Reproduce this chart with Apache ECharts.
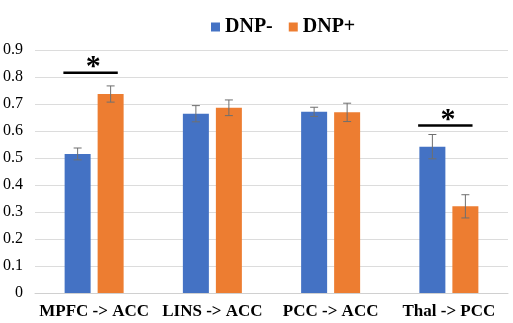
<!DOCTYPE html>
<html><head><meta charset="utf-8">
<script src="https://cdn.jsdelivr.net/npm/echarts@6/dist/echarts.min.js"></script>
<style>html,body{margin:0;padding:0;background:#fff}#c{width:513px;height:323px}</style>
</head><body><div id="c"></div>
<script>
var categories = ['MPFC -> ACC', 'LINS -> ACC', 'PCC -> ACC', 'Thal -> PCC'];
var dnpMinus = [0.515, 0.664, 0.671, 0.542];
var dnpMinusErr = [0.022, 0.030, 0.017, 0.045];
var dnpPlus = [0.737, 0.686, 0.669, 0.321];
var dnpPlusErr = [0.030, 0.029, 0.034, 0.043];
var sigCats = [0, 3];
var sigY = [0.816, 0.620];
var yTicks = [0, 0.1, 0.2, 0.3, 0.4, 0.5, 0.6, 0.7, 0.8, 0.9];

var BLUE = '#4472C4', ORANGE = '#ED7D31';
var chart = echarts.init(document.getElementById('c'));

var BAR_W = 26, GAP = 7;
function errSeries(vals, errs, side) {
  return {
    type: 'custom', z: 5, silent: true,
    data: vals.map(function (v, i) { return [i, v, errs[i]]; }),
    renderItem: function (params, api) {
      var i = api.value(0), v = api.value(1), e = api.value(2);
      var c = api.coord([i, v]);
      var x = c[0] + side * (BAR_W + GAP) / 2;
      var top = api.coord([i, v + e])[1], bot = api.coord([i, v - e])[1];
      var st = { stroke: '#6f6f6f', lineWidth: 1 };
      return { type: 'group', children: [
        { type: 'line', shape: { x1: x, y1: top, x2: x, y2: bot }, style: st },
        { type: 'line', shape: { x1: x - 4, y1: top, x2: x + 4, y2: top }, style: st },
        { type: 'line', shape: { x1: x - 4, y1: bot, x2: x + 4, y2: bot }, style: st }
      ]};
    }
  };
}

chart.setOption({
  animation: false,
  textStyle: { fontFamily: 'Liberation Serif' },
  legend: {
    top: 12, left: 206, itemWidth: 9, itemHeight: 9, itemGap: 16,
    icon: 'rect',
    data: ['DNP-', 'DNP+'],
    textStyle: { fontFamily: 'Liberation Serif', fontWeight: 'bold', fontSize: 20, color: '#000' }
  },
  grid: { left: 35, right: 5, top: 50, bottom: 30 },
  xAxis: {
    type: 'category', data: categories,
    axisLine: { lineStyle: { color: '#d0d0d0' } },
    axisTick: { show: false },
    axisLabel: { fontFamily: 'Liberation Serif', fontWeight: 'bold', fontSize: 17, color: '#000', margin: 10, interval: 0 }
  },
  yAxis: {
    type: 'value', min: 0, max: 0.9, interval: 0.1,
    axisLine: { show: false }, axisTick: { show: false },
    splitLine: { lineStyle: { color: '#dcdcdc' } },
    axisLabel: {
      fontFamily: 'Liberation Serif', fontSize: 16, color: '#000', margin: 12,
      formatter: function (v) {
        var idx = Math.round(v * 10);
        var t = yTicks[idx];
        return t === 0 ? '0' : t.toFixed(1);
      }
    }
  },
  series: [
    { name: 'DNP-', type: 'bar', data: dnpMinus, barWidth: BAR_W, barGap: (GAP / BAR_W * 100) + '%', itemStyle: { color: BLUE } },
    { name: 'DNP+', type: 'bar', data: dnpPlus, barWidth: BAR_W, itemStyle: { color: ORANGE } },
    errSeries(dnpMinus, dnpMinusErr, -1),
    errSeries(dnpPlus, dnpPlusErr, 1),
    {
      type: 'custom', z: 6, silent: true,
      data: sigCats.map(function (c, k) { return [c, sigY[k]]; }),
      renderItem: function (params, api) {
        var c = api.coord([api.value(0), api.value(1)]);
        var bw = api.size([1, 0])[0];
        return { type: 'group', children: [
          { type: 'line', shape: { x1: c[0] - 0.26 * bw, y1: c[1], x2: c[0] + 0.2 * bw, y2: c[1] },
            style: { stroke: '#000', lineWidth: 2.5 } },
          { type: 'text', x: c[0] - 1, y: c[1] + 10,
            style: { text: '*', fill: '#000', font: 'bold 30px "Liberation Serif"', align: 'center', verticalAlign: 'bottom' } }
        ]};
      }
    }
  ]
});
</script></body></html>
